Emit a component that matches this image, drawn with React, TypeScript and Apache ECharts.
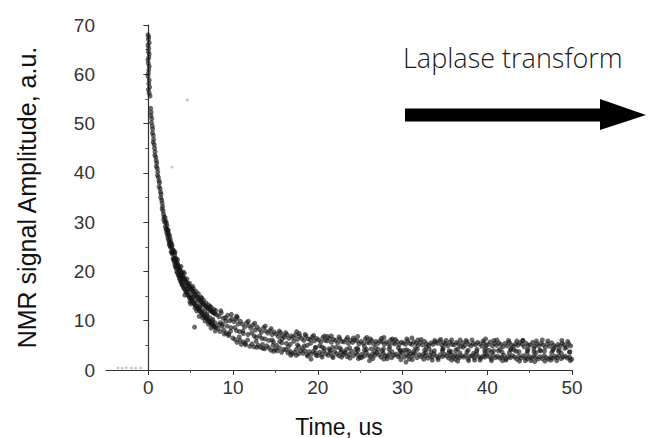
import React, { useEffect, useRef } from "react";
import * as echarts from "echarts";

// Time (us) / amplitude (a.u.) pairs
const decayHead: number[][] = [
  [-0.05, 68.0], [0.05, 67.6], [0.0, 67.1], [0.1, 66.4], [-0.05, 65.9], [0.05, 65.3], [0.0, 64.6],
  [0.1, 64.1], [0.05, 63.4], [-0.05, 62.9], [0.0, 62.2], [0.1, 61.6], [0.05, 60.9], [0.0, 60.2],
  [-0.05, 59.6], [0.1, 58.8], [0.05, 58.1], [0.15, 57.4], [0.0, 56.9], [0.1, 56.2], [0.2, 55.6],
];

const decayFast: number[][] = [
  [0.28, 53.1], [0.33, 52.3], [0.31, 51.6], [0.4, 51.0], [0.37, 50.2], [0.46, 49.5], [0.5, 48.9],
  [0.48, 48.1], [0.58, 47.6], [0.62, 46.8], [0.57, 46.2], [0.69, 45.7], [0.73, 45.0], [0.79, 44.3],
  [0.76, 43.6], [0.88, 43.2], [0.92, 42.5], [0.99, 42.0], [0.95, 41.3], [1.05, 40.9], [1.11, 40.2],
  [1.08, 39.5], [1.19, 39.1], [1.25, 38.4], [1.31, 38.0], [1.27, 37.2], [1.38, 36.8], [1.43, 36.1],
  [1.5, 35.7], [1.46, 35.0], [1.57, 34.5], [1.62, 33.9], [1.68, 33.2], [1.63, 32.7], [1.74, 32.3],
  [1.79, 31.6], [1.85, 31.1], [1.81, 30.5], [1.92, 30.0],
];

const decayKnee: number[][] = [
  [1.98, 30.9], [2.0, 29.1], [2.06, 30.2], [2.09, 28.5], [2.13, 29.8], [2.17, 27.9], [2.2, 29.3],
  [2.24, 27.4], [2.28, 28.4], [2.31, 26.8], [2.35, 28.3], [2.39, 26.4], [2.43, 27.5], [2.46, 25.5],
  [2.5, 27.2], [2.54, 25.2], [2.58, 26.6], [2.61, 24.9], [2.65, 26.0], [2.69, 24.0], [2.73, 25.6],
  [2.76, 23.8], [2.8, 25.3], [2.84, 23.5], [2.88, 24.4], [2.91, 22.6], [2.95, 24.3], [2.99, 22.3],
  [3.03, 23.9], [3.06, 21.9], [3.1, 23.4], [3.14, 21.3], [3.18, 22.6], [3.21, 20.9], [3.25, 22.7],
  [3.29, 20.6], [3.33, 22.0], [3.36, 19.9], [3.4, 21.7], [3.44, 19.8], [3.48, 21.4], [3.51, 19.3],
  [3.55, 21.0], [3.59, 19.1], [3.63, 20.8], [3.66, 18.6], [3.7, 20.4], [3.74, 18.4], [3.78, 20.1],
  [3.81, 17.9], [3.85, 19.8], [3.89, 17.9], [3.93, 19.5], [3.96, 17.3], [4.0, 19.1], [4.05, 17.2],
  [4.1, 19.0], [4.15, 16.7], [4.2, 18.6], [4.25, 16.5], [4.3, 18.4], [4.35, 16.2], [4.4, 18.0],
  [4.45, 15.8], [4.5, 17.8], [4.55, 15.7], [4.6, 17.5], [4.65, 15.2], [4.7, 17.3], [4.75, 15.1],
  [4.8, 16.9], [4.85, 14.7], [4.9, 16.8], [4.95, 14.5], [5.0, 16.4], [5.06, 14.2], [5.12, 16.3],
  [5.18, 14.0], [5.24, 15.9], [5.3, 13.6], [5.36, 15.8], [5.42, 13.4], [5.48, 15.3], [5.54, 13.1],
  [5.6, 15.2], [5.66, 12.9], [5.72, 14.9], [5.78, 12.5], [5.84, 14.7], [5.9, 12.4], [5.96, 14.4],
  [6.02, 12.0], [6.08, 14.2], [6.14, 11.9], [6.2, 13.9], [6.26, 11.6], [6.32, 13.8], [6.38, 11.4],
  [6.44, 13.4], [6.5, 11.1], [6.56, 13.3], [6.62, 10.9], [6.68, 13.0], [6.74, 10.6], [6.8, 12.9],
  [6.86, 10.5], [6.92, 12.6], [6.98, 10.2], [7.04, 12.5], [7.1, 10.0], [7.16, 12.4], [7.22, 9.7],
  [7.28, 12.1], [7.34, 9.6], [7.4, 12.0], [7.46, 9.3], [7.52, 11.8], [7.58, 9.2], [7.64, 11.7],
  [7.7, 8.9], [7.76, 11.5], [7.82, 8.8], [7.88, 11.4], [7.94, 8.6],
  [3.2, 22.1], [3.9, 18.7], [4.6, 16.4], [5.3, 14.8], [6.1, 13.0], [6.9, 11.4], [7.6, 10.3],
  [4.3, 15.2], [5.0, 13.4], [5.7, 12.0], [6.4, 10.6], [7.1, 9.3], [4.1, 19.9], [5.2, 17.0],
  [6.3, 14.6], [7.3, 12.9], [5.45, 8.7],
];

const kneeScatter: number[][] = [
  [2.15, 28.7], [2.3, 27.9], [2.45, 26.0], [2.6, 25.8], [2.75, 24.9], [2.9, 23.9], [3.05, 22.6],
  [3.15, 23.9], [3.3, 21.1], [3.45, 22.4], [3.6, 20.3], [3.75, 19.2], [3.85, 21.0], [4.0, 17.6],
  [4.15, 18.4], [4.25, 19.6], [4.4, 17.0], [4.55, 18.5], [4.7, 16.0], [4.85, 17.6], [5.0, 15.2],
  [5.15, 14.7], [5.3, 16.6], [5.45, 14.1], [5.6, 16.0], [5.75, 13.7], [5.9, 15.5], [6.05, 12.8],
  [6.2, 14.8], [6.35, 12.2], [6.5, 14.2], [6.65, 11.8], [6.8, 13.6], [6.95, 11.0], [7.1, 13.2],
  [7.25, 10.6], [7.4, 12.7], [7.55, 9.9], [7.7, 12.3], [7.85, 9.6], [7.95, 12.1], [6.0, 10.9],
  [6.7, 9.9], [7.4, 8.5], [7.9, 7.9], [4.9, 13.8], [5.5, 12.6],
];

const decayTail: number[][] = [
  [8.1, 11.2], [8.35, 10.8], [8.6, 11.6], [8.85, 10.5], [8.22, 8.4], [8.47, 7.8], [8.72, 8.9], [8.97, 7.3],
  [9.1, 10.6], [9.35, 11.1], [9.6, 10.0], [9.85, 10.4], [9.22, 7.5], [9.47, 7.0], [9.72, 7.9], [9.97, 6.5],
  [10.1, 9.8], [10.35, 10.3], [10.6, 9.3], [10.85, 9.9], [10.22, 6.2], [10.47, 5.6], [10.72, 6.7], [10.97, 5.2],
  [11.1, 9.3], [11.35, 8.7], [11.6, 9.6], [11.85, 9.0], [11.22, 5.7], [11.47, 5.1], [11.72, 6.1], [11.97, 4.8],
  [12.1, 8.5], [12.35, 9.1], [12.6, 8.1], [12.85, 8.7], [12.22, 5.3], [12.47, 4.7], [12.72, 5.8], [12.97, 5.0],
  [13.1, 8.2], [13.35, 7.7], [13.6, 8.6], [13.85, 7.9], [13.22, 4.6], [13.47, 5.2], [13.72, 4.3], [13.97, 4.9],
  [14.1, 7.5], [14.35, 8.0], [14.6, 7.2], [14.85, 7.7], [14.22, 4.5], [14.47, 4.0], [14.72, 5.0], [14.97, 4.2],
  [15.1, 7.3], [15.35, 6.8], [15.6, 7.6], [15.85, 7.0], [15.22, 3.9], [15.47, 4.5], [15.72, 3.6], [15.97, 4.2],
  [16.1, 6.7], [16.35, 7.2], [16.6, 6.4], [16.85, 6.9], [16.22, 4.1], [16.47, 3.5], [16.72, 3.8], [16.97, 3.3],
  [17.1, 6.6], [17.35, 7.1], [17.6, 6.2], [17.85, 6.9], [17.22, 3.6], [17.47, 4.2], [17.72, 3.3], [17.97, 3.9],
  [18.1, 6.4], [18.35, 6.0], [18.6, 6.9], [18.85, 6.3], [18.22, 3.4], [18.47, 3.9], [18.72, 3.1], [18.97, 3.7],
  [19.1, 6.2], [19.35, 6.7], [19.6, 5.9], [19.85, 6.4], [19.22, 3.2], [19.47, 3.8], [19.72, 3.5], [19.97, 2.9],
  [20.1, 6.1], [20.35, 5.7], [20.6, 6.6], [20.85, 6.0], [20.22, 3.6], [20.47, 3.1], [20.72, 3.9], [20.97, 3.3],
  [21.1, 5.9], [21.35, 6.4], [21.6, 5.6], [21.85, 6.2], [21.22, 3.0], [21.47, 3.5], [21.72, 2.8], [21.97, 3.7],
  [22.1, 6.0], [22.35, 5.5], [22.6, 6.3], [22.85, 5.8], [22.22, 3.3], [22.47, 2.9], [22.72, 3.6], [22.97, 3.1],
  [23.1, 5.7], [23.35, 6.2], [23.6, 5.4], [23.85, 6.0], [23.22, 3.4], [23.47, 2.7], [23.72, 3.2], [23.97, 3.8],
  [24.1, 5.6], [24.35, 6.1], [24.6, 5.9], [24.85, 5.3], [24.22, 2.9], [24.47, 3.5], [24.72, 3.1], [24.97, 2.6],
  [25.1, 5.8], [25.35, 5.4], [25.6, 6.3], [25.85, 5.6], [25.22, 3.2], [25.47, 2.8], [25.72, 3.6], [25.97, 3.0],
  [26.1, 5.5], [26.35, 6.0], [26.6, 5.3], [26.85, 5.8], [26.22, 2.7], [26.47, 3.3], [26.72, 3.0], [26.97, 3.5],
  [27.1, 5.4], [27.35, 5.9], [27.6, 5.7], [27.85, 5.2], [27.22, 3.1], [27.47, 2.6], [27.72, 3.4], [27.97, 2.9],
  [28.1, 5.7], [28.35, 5.3], [28.6, 6.1], [28.85, 5.5], [28.22, 2.8], [28.47, 3.3], [28.72, 2.5], [28.97, 3.0],
  [29.1, 5.3], [29.35, 5.8], [29.6, 5.1], [29.85, 5.6], [29.22, 3.2], [29.47, 2.7], [29.72, 3.0], [29.97, 3.5],
  [30.1, 5.5], [30.35, 5.2], [30.6, 5.9], [30.85, 5.4], [30.22, 2.6], [30.47, 3.1], [30.72, 2.8], [30.97, 3.3],
  [31.1, 5.2], [31.35, 5.7], [31.6, 5.4], [31.85, 5.0], [31.22, 2.9], [31.47, 3.4], [31.72, 2.5], [31.97, 3.1],
  [32.1, 5.6], [32.35, 5.1], [32.6, 5.8], [32.85, 5.3], [32.22, 2.7], [32.47, 3.2], [32.72, 2.9], [32.97, 2.4],
  [33.1, 5.0], [33.35, 5.5], [33.6, 5.2], [33.85, 5.7], [33.22, 3.0], [33.47, 2.6], [33.72, 3.3], [33.97, 2.8],
  [34.1, 5.4], [34.35, 5.9], [34.6, 5.1], [34.85, 5.5], [34.22, 2.5], [34.47, 3.1], [34.72, 2.7], [34.97, 3.2],
  [35.1, 5.3], [35.35, 4.9], [35.6, 5.6], [35.85, 5.2], [35.22, 2.8], [35.47, 2.4], [35.72, 3.0], [35.97, 2.6],
  [36.1, 5.1], [36.35, 5.6], [36.6, 5.3], [36.85, 4.8], [36.22, 3.1], [36.47, 2.7], [36.72, 2.5], [36.97, 2.9],
  [37.1, 5.5], [37.35, 5.0], [37.6, 5.7], [37.85, 5.2], [37.22, 2.6], [37.47, 3.0], [37.72, 2.3], [37.97, 2.8],
  [38.1, 4.9], [38.35, 5.4], [38.6, 5.1], [38.85, 5.6], [38.22, 2.9], [38.47, 2.5], [38.72, 3.2], [38.97, 2.7],
  [39.1, 5.3], [39.35, 4.8], [39.6, 5.5], [39.85, 5.0], [39.22, 2.4], [39.47, 2.8], [39.72, 2.6], [39.97, 3.1],
  [40.1, 5.2], [40.35, 5.7], [40.6, 4.9], [40.85, 5.4], [40.22, 2.7], [40.47, 2.3], [40.72, 3.0], [40.97, 2.5],
  [41.1, 5.0], [41.35, 5.5], [41.6, 5.2], [41.85, 4.7], [41.22, 2.8], [41.47, 2.4], [41.72, 2.6], [41.97, 3.0],
  [42.1, 5.4], [42.35, 4.9], [42.6, 5.6], [42.85, 5.1], [42.22, 2.3], [42.47, 2.7], [42.72, 2.5], [42.97, 2.9],
  [43.1, 4.8], [43.35, 5.3], [43.6, 5.0], [43.85, 5.5], [43.22, 2.6], [43.47, 2.2], [43.72, 2.8], [43.97, 2.4],
  [44.1, 5.2], [44.35, 4.7], [44.6, 5.4], [44.85, 5.0], [44.22, 2.9], [44.47, 2.5], [44.72, 2.3], [44.97, 2.7],
  [45.1, 5.1], [45.35, 5.6], [45.6, 4.8], [45.85, 5.3], [45.22, 2.4], [45.47, 2.8], [45.72, 2.6], [45.97, 2.2],
  [46.1, 4.9], [46.35, 5.4], [46.6, 5.1], [46.85, 4.6], [46.22, 2.7], [46.47, 2.3], [46.72, 2.9], [46.97, 2.5],
  [47.1, 5.3], [47.35, 4.8], [47.6, 5.5], [47.85, 5.0], [47.22, 2.2], [47.47, 2.6], [47.72, 2.4], [47.97, 2.8],
  [48.1, 4.7], [48.35, 5.2], [48.6, 4.9], [48.85, 5.4], [48.22, 2.5], [48.47, 2.9], [48.72, 2.3], [48.97, 2.6],
  [49.1, 5.1], [49.35, 4.6], [49.6, 5.3], [49.85, 4.9], [49.22, 2.8], [49.47, 2.4], [49.72, 2.6], [49.97, 2.2],
];

const tailMiddle: number[][] = [
  [8.5, 9.6], [9.3, 8.9], [10.4, 8.0], [11.2, 7.4], [12.5, 6.9], [13.4, 6.4], [14.6, 6.1], [15.5, 5.8],
  [16.3, 5.4], [17.6, 5.1], [18.4, 4.9], [19.7, 4.6], [20.5, 4.7], [21.3, 4.3], [22.6, 4.5], [23.4, 4.2],
  [24.7, 4.4], [25.5, 4.0], [26.3, 4.3], [27.6, 3.9], [28.4, 4.2], [29.7, 3.8], [30.5, 4.1], [31.3, 3.7],
  [32.6, 4.0], [33.4, 3.6], [34.7, 3.9], [35.5, 3.5], [36.3, 4.0], [37.6, 3.7], [38.4, 3.4], [39.7, 3.9],
  [40.5, 3.6], [41.3, 3.9], [42.6, 3.5], [43.4, 3.8], [44.7, 3.4], [45.5, 3.7], [46.3, 3.9], [47.6, 3.5],
  [48.4, 3.8], [49.7, 3.6],
  [8.75, 9.3], [9.75, 8.6], [10.75, 7.8], [11.75, 7.2], [12.75, 6.6], [13.75, 6.3], [14.75, 5.7], [15.75, 5.5],
  [16.75, 5.2], [17.75, 4.8], [18.75, 5.0], [19.75, 4.5], [20.75, 4.4], [21.75, 4.6], [22.75, 4.1], [23.75, 4.5],
  [24.75, 4.0], [25.75, 4.2], [26.75, 3.8], [27.75, 4.3], [28.75, 3.7], [29.75, 4.0], [30.75, 3.8], [31.75, 4.2],
  [32.75, 3.6], [33.75, 3.9], [34.75, 4.2], [35.75, 3.7], [36.75, 3.5], [37.75, 4.0], [38.75, 3.8], [39.75, 3.4],
  [40.75, 3.9], [41.75, 3.6], [42.75, 4.1], [43.75, 3.7], [44.75, 3.9], [45.75, 3.5], [46.75, 3.8], [47.75, 4.0],
  [48.75, 3.4], [49.75, 3.7],
];

const tailScatter: number[][] = [
  [8.3, 9.2], [8.55, 12.0], [8.9, 8.1], [9.15, 9.9], [9.5, 7.3], [9.8, 11.3], [10.2, 8.6], [10.5, 10.7],
  [10.8, 6.0], [11.15, 7.9], [11.45, 5.4], [11.8, 9.9], [12.2, 7.5], [12.55, 9.5], [12.8, 4.6], [13.15, 6.9],
  [13.5, 4.4], [13.8, 8.9], [14.2, 6.0], [14.5, 8.4], [14.8, 3.8], [15.15, 5.0], [15.45, 7.9], [15.8, 6.3],
  [16.2, 7.6], [16.5, 4.7], [16.8, 3.0], [17.15, 5.8], [17.45, 3.0], [17.8, 7.4], [18.2, 4.4], [18.5, 7.2],
  [18.8, 2.8], [19.15, 5.4], [19.5, 7.0], [19.8, 3.0], [20.2, 4.9], [20.5, 2.6], [20.8, 6.9], [21.15, 6.8],
  [21.45, 4.0], [21.8, 2.5], [22.2, 4.6], [22.5, 6.7], [22.8, 2.6], [23.15, 3.7], [23.5, 6.6], [23.8, 2.4],
  [24.2, 6.5], [24.5, 4.3], [24.8, 2.3], [25.15, 2.5], [25.5, 4.8], [25.8, 6.6], [26.2, 6.3], [26.5, 2.3],
  [26.8, 4.6], [27.15, 4.2], [27.5, 6.4], [27.8, 2.2], [28.2, 2.3], [28.5, 4.7], [28.8, 6.3], [29.15, 6.2],
  [29.5, 4.5], [29.8, 2.1], [30.2, 4.0], [30.5, 6.3], [30.8, 2.2], [31.15, 2.1], [31.5, 4.4], [31.8, 6.1],
  [32.2, 6.2], [32.5, 2.2], [32.8, 4.6], [33.15, 4.3], [33.5, 2.0], [33.8, 6.0], [34.2, 2.1], [34.5, 6.2],
  [34.8, 4.5], [35.15, 6.0], [35.5, 3.9], [35.8, 2.0], [36.2, 2.2], [36.5, 4.3], [36.8, 6.1], [37.15, 4.6],
  [37.5, 6.0], [37.8, 1.9], [38.2, 6.1], [38.5, 2.0], [38.8, 4.2], [39.15, 2.0], [39.5, 5.9], [39.8, 4.4],
  [40.2, 4.0], [40.5, 1.9], [40.8, 6.0], [41.15, 6.1], [41.5, 4.2], [41.8, 1.9], [42.2, 2.0], [42.5, 6.0],
  [42.8, 4.3], [43.15, 4.1], [43.5, 5.9], [43.8, 1.8], [44.2, 6.0], [44.5, 1.9], [44.8, 4.2], [45.15, 1.9],
  [45.5, 4.4], [45.8, 5.9], [46.2, 4.0], [46.5, 6.1], [46.8, 1.8], [47.15, 5.9], [47.5, 2.0], [47.8, 4.3],
  [48.2, 1.9], [48.5, 4.1], [48.8, 6.0], [49.15, 4.4], [49.5, 5.8], [49.8, 1.9],
];

const tailOutliers: number[][] = [
  [10.4, 10.9], [24.7, 6.8], [31.1, 6.5], [35.8, 6.1], [39.8, 6.3], [17.5, 7.8], [21.6, 6.9], [27.8, 6.6],
  [44.2, 6.0], [30.4, 1.6], [45.6, 1.7], [36.5, 1.8], [19.2, 2.2], [26.1, 1.9],
];

const faintSpecks: number[][] = [[4.6, 54.8], [2.8, 41.2]];
const preTrigger: number[][] = [[-3.6, 0.4], [-3.1, 0.35], [-2.6, 0.45], [-2.0, 0.4], [-1.5, 0.35], [-0.9, 0.4]];

const xMajor = [0, 10, 20, 30, 40, 50];
const xMinor = [5, 15, 25, 35, 45];

const xTitle = "Time, us";
const yTitle = "NMR signal Amplitude, a.u.";
const noteText = "Laplase transform";

export default function App() {
  const ref = useRef<HTMLDivElement>(null);
  useEffect(() => {
    if (!ref.current) return;
    const chart = echarts.init(ref.current, undefined, { renderer: "svg" });
    const font = "'Liberation Sans', Arial, sans-serif";
    chart.setOption({
      animation: false,
      backgroundColor: "#ffffff",
      grid: {
        left: 106, right: 76, top: 25, bottom: 68,
        containLabel: false, outerBoundsMode: "none",
      },
      xAxis: [
        {
          type: "value",
          min: -5,
          max: 50,
          name: xTitle,
          nameLocation: "middle",
          nameGap: 45,
          nameTextStyle: { fontFamily: font, fontSize: 23, color: "#111" },
          axisLine: { show: true, onZero: false, lineStyle: { color: "#333", width: 1.2 } },
          axisTick: { show: true, customValues: xMajor, length: 5, lineStyle: { color: "#333" } },
          axisLabel: { customValues: xMajor, fontFamily: font, fontSize: 19, color: "#333", margin: 8 },
          splitLine: { show: false },
        },
        {
          type: "value",
          min: -5,
          max: 50,
          position: "bottom",
          axisLine: { show: false },
          axisTick: { show: true, customValues: xMinor, length: 3, lineStyle: { color: "#555" } },
          axisLabel: { show: false },
          splitLine: { show: false },
        },
      ],
      yAxis: {
        type: "value",
        min: 0,
        max: 70,
        interval: 10,
        name: yTitle,
        nameLocation: "middle",
        nameGap: 67,
        nameTextStyle: { fontFamily: font, fontSize: 25, color: "#111" },
        axisLine: { show: true, lineStyle: { color: "#333", width: 1.2 } },
        axisTick: { show: true, length: 5, lineStyle: { color: "#333" } },
        minorTick: { show: true, splitNumber: 2, length: 3, lineStyle: { color: "#555" } },
        axisLabel: { fontFamily: font, fontSize: 19, color: "#333", margin: 11 },
        splitLine: { show: false },
      },
      series: [
        {
          type: "scatter",
          name: "pre-trigger",
          data: preTrigger,
          symbolSize: 3,
          itemStyle: { color: "rgba(120,120,120,0.5)" },
        },
        {
          type: "scatter",
          name: "faint",
          data: faintSpecks,
          symbolSize: 3,
          itemStyle: { color: "rgba(150,150,150,0.7)" },
        },
        {
          type: "scatter",
          name: "signal",
          data: [
            ...decayHead, ...decayFast, ...decayKnee, ...kneeScatter,
            ...decayTail, ...tailMiddle, ...tailScatter, ...tailOutliers,
          ],
          symbol: "circle",
          symbolSize: 5,
          itemStyle: { color: "rgba(20,20,20,0.8)" },
        },
      ],
      graphic: [
        {
          type: "text",
          left: 403,
          top: 44,
          style: {
            text: noteText,
            fontFamily: "'Open Sans', Lato, sans-serif",
            fontSize: 27,
            fontWeight: 300,
            fill: "#1a1a1a",
          },
        },
        {
          type: "polygon",
          shape: {
            points: [
              [405, 108.5], [600, 108.5], [600, 99], [646, 115], [600, 130], [600, 121.5], [405, 121.5],
            ],
          },
          style: { fill: "#000" },
        },
      ],
    });
    return () => chart.dispose();
  }, []);
  return (
    <div
      ref={ref}
      style={{ position: "fixed", left: 0, top: 0, width: 648, height: 438, background: "#fff" }}
    />
  );
}
